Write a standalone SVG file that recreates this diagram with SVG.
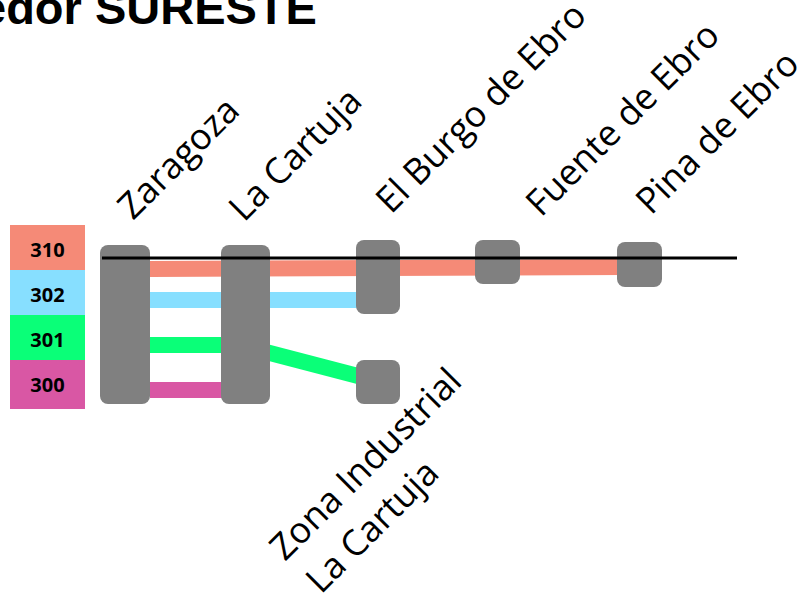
<svg xmlns="http://www.w3.org/2000/svg" width="804" height="600" viewBox="0 0 804 600">
<style>
.st{fill:#808080}
.lbl{font-family:"Open Sans","Noto Sans",sans-serif;font-size:36px;fill:#000}
.leg{font-family:"Open Sans","Noto Sans",sans-serif;font-size:20px;font-weight:bold;fill:#000;text-anchor:middle}
.ln{fill:none;stroke-width:16;stroke-linecap:butt}
</style>
<rect width="804" height="600" fill="#fff"/>
<text x="-20" y="24" font-family="Liberation Sans, Arial, sans-serif" font-size="47" font-weight="bold">edor SURESTE</text>
<g id="legend">
<rect x="10" y="225" width="75" height="45" fill="#F58A77"/>
<rect x="10" y="270" width="75" height="45" fill="#87DFFF"/>
<rect x="10" y="315" width="75" height="45" fill="#0AFF78"/>
<rect x="10" y="360" width="75" height="49" fill="#D957A4"/>
<text class="leg" x="47.5" y="257">310</text>
<text class="leg" x="47.5" y="302">302</text>
<text class="leg" x="47.5" y="347">301</text>
<text class="leg" x="47.5" y="392">300</text>
</g>
<g id="connectors">
<path class="ln" stroke="#F58A77" d="M150 269 L625 267"/>
<path class="ln" stroke="#87DFFF" d="M150 300 H358"/>
<path class="ln" stroke="#0AFF78" d="M150 345 H222"/>
<path class="ln" stroke="#0AFF78" d="M266 352 L358 376"/>
<path class="ln" stroke="#D957A4" d="M150 390 H222"/>
</g>
<g id="zaragoza"><rect class="st" x="100" y="245" width="50" height="159" rx="8"/><text class="lbl" x="133" y="221" transform="rotate(-45 133 221)">Zaragoza</text></g>
<g id="la-cartuja"><rect class="st" x="221" y="245" width="49" height="159" rx="8"/><text class="lbl" x="244" y="223" transform="rotate(-45 244 223)">La Cartuja</text></g>
<g id="el-burgo"><rect class="st" x="356" y="240" width="44" height="74" rx="8"/><text class="lbl" x="391" y="215" transform="rotate(-45 391 215)">El Burgo de Ebro</text></g>
<g id="zona-industrial"><rect class="st" x="356" y="360" width="44" height="44" rx="8"/><text class="lbl" transform="rotate(-45 285 562)"><tspan x="285" y="562">Zona Industrial</tspan></text><text class="lbl" transform="rotate(-45 321 595)"><tspan x="321" y="595">La Cartuja</tspan></text></g>
<g id="fuente"><rect class="st" x="475" y="240" width="45" height="44" rx="8"/><text class="lbl" x="541" y="218" transform="rotate(-45 541 218)">Fuente de Ebro</text></g>
<g id="pina"><rect class="st" x="617" y="242" width="45" height="45" rx="8"/><text class="lbl" x="651" y="216" transform="rotate(-45 651 216)">Pina de Ebro</text></g>
<line x1="102" y1="258" x2="737" y2="258" stroke="#000" stroke-width="3"/>
</svg>
